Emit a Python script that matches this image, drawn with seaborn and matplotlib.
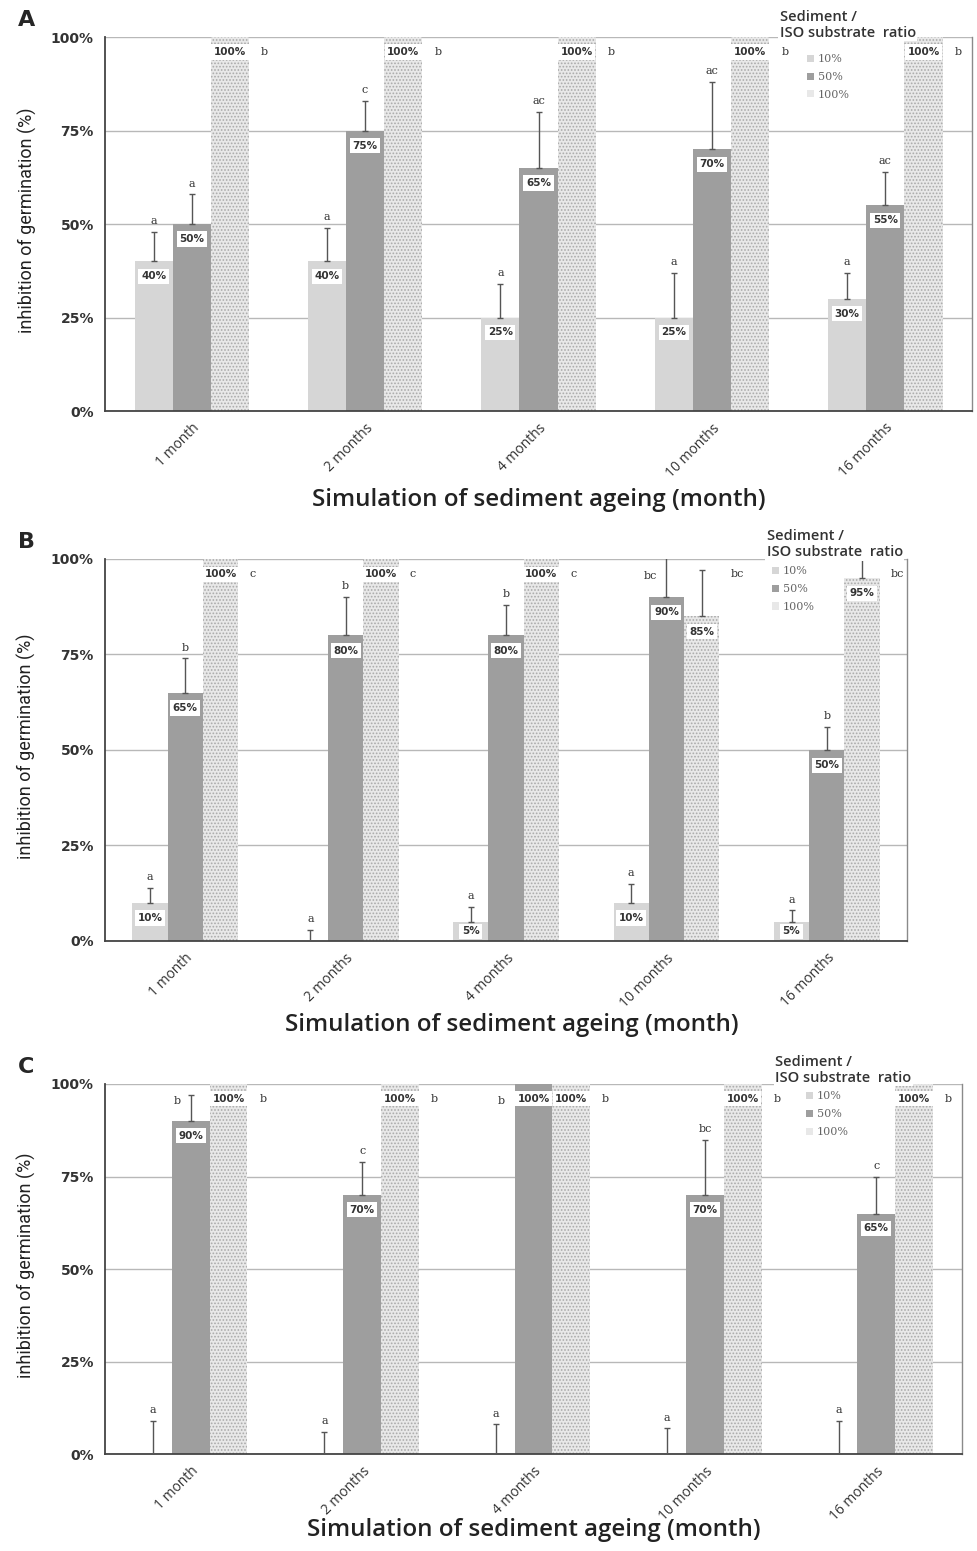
import numpy as np
import pandas as pd
import matplotlib
matplotlib.use('Agg')
import matplotlib.pyplot as plt
import matplotlib.colors as mcolors
import seaborn as sns
from matplotlib.patches import Patch

# categories
months = ['1 month', '2 months', '4 months', '10 months', '16 months']
ratios = ['10%', '50%', '100%']

# panel A
a_10 = [40, 40, 25, 25, 30]
a_10_err = [8, 9, 9, 12, 7]
a_50 = [50, 75, 65, 70, 55]
a_50_err = [8, 8, 15, 18, 9]
a_100 = [100, 100, 100, 100, 100]
a_100_err = [0, 0, 0, 0, 0]
a_let_10 = ['a', 'a', 'a', 'a', 'a']
a_let_50 = ['a', 'c', 'ac', 'ac', 'ac']
a_let_100 = ['b', 'b', 'b', 'b', 'b']

# panel B
b_10 = [10, 0, 5, 10, 5]
b_10_err = [4, 3, 4, 5, 3]
b_50 = [65, 80, 80, 90, 50]
b_50_err = [9, 10, 8, 12, 6]
b_100 = [100, 100, 100, 85, 95]
b_100_err = [0, 0, 0, 12, 8]
b_let_10 = ['a', 'a', 'a', 'a', 'a']
b_let_50 = ['b', 'b', 'b', 'bc', 'b']
b_let_100 = ['c', 'c', 'c', 'bc', 'bc']

# panel C
c_10 = [0, 0, 0, 0, 0]
c_10_err = [9, 6, 8, 7, 9]
c_50 = [90, 70, 100, 70, 65]
c_50_err = [7, 9, 0, 15, 10]
c_100 = [100, 100, 100, 100, 100]
c_100_err = [0, 0, 0, 0, 0]
c_let_10 = ['a', 'a', 'a', 'a', 'a']
c_let_50 = ['b', 'c', 'b', 'bc', 'c']
c_let_100 = ['b', 'b', 'b', 'b', 'b']

sns.set_style('white')
plt.rcParams['font.family'] = ['DejaVu Sans']
plt.rcParams['hatch.linewidth'] = 0.8

colors = ['#d6d6d6', '#9e9e9e', '#e8e8e8']
txt = '#333333'
group_w = 0.66
bw = group_w / 3

fig = plt.figure(figsize=(9.77, 15.51), dpi=100)

panels = [
    dict(name='A', rect=[0.1075, 0.7350, 0.8874, 0.2411],
         vals=[a_10, a_50, a_100], errs=[a_10_err, a_50_err, a_100_err],
         lets=[a_let_10, a_let_50, a_let_100], xl=(0.5, -0.238),
         yl=-0.09, title=(0.778, 1.073), leg=(0.801, 0.975)),
    dict(name='B', rect=[0.1075, 0.3933, 0.8209, 0.2463],
         vals=[b_10, b_50, b_100], errs=[b_10_err, b_50_err, b_100_err],
         lets=[b_let_10, b_let_50, b_let_100], xl=(0.507, -0.22),
         yl=-0.0985, title=(0.825, 1.078), leg=(0.822, 1.001)),
    dict(name='C', rect=[0.1075, 0.0625, 0.8772, 0.2386],
         vals=[c_10, c_50, c_100], errs=[c_10_err, c_50_err, c_100_err],
         lets=[c_let_10, c_let_50, c_let_100], xl=(0.5, -0.205),
         yl=-0.0916, title=(0.782, 1.079), leg=(0.809, 1.001)),
]

for p in panels:
    ax = fig.add_axes(p['rect'])
    df = pd.DataFrame({
        'month': months * 3,
        'ratio': [r for r in ratios for _ in months],
        'value': p['vals'][0] + p['vals'][1] + p['vals'][2],
    })
    sns.barplot(data=df, x='month', y='value', hue='ratio', order=months,
                hue_order=ratios, palette=colors, width=group_w, errorbar=None,
                saturation=1, legend=False, ax=ax, zorder=2)

    # no outlines; speckled look for the 100% bars
    speck = mcolors.to_rgba(colors[2])
    for b in ax.patches:
        b.set_linewidth(0)
        if np.allclose(b.get_facecolor(), speck, atol=0.01):
            b.set_hatch('.....')
            b.set_edgecolor('#aaaaaa')

    for i in range(3):
        xs = np.arange(len(months)) + (i - 1) * bw
        vals = np.array(p['vals'][i], dtype=float)
        errs = np.array(p['errs'][i], dtype=float)
        m = errs > 0
        if m.any():
            ax.errorbar(xs[m], vals[m], yerr=[np.zeros(m.sum()), errs[m]],
                        fmt='none', ecolor='#555555', elinewidth=1,
                        capsize=2.5, capthick=1, zorder=3)
        for x, v, e, l in zip(xs, vals, errs, p['lets'][i]):
            # value label
            if v > 0:
                ly = v - 4 if v >= 10 else v / 2
                ax.text(x, ly, f'{int(v)}%', ha='center', va='center',
                        fontsize=7.5, fontweight='bold', color=txt, zorder=5,
                        bbox=dict(boxstyle='square,pad=0.25', fc='white', ec='none'))
            # significance letter
            if i == 2:
                ax.text(x + bw / 2 + 0.07, 96, l, ha='left', va='center',
                        fontsize=8, family='DejaVu Serif', color=txt, zorder=5)
            elif v + e >= 95:
                dx = bw / 2 if e == 0 else 0
                ax.text(x - dx - 0.06, 95.5, l, ha='right', va='center',
                        fontsize=8, family='DejaVu Serif', color=txt, zorder=5)
            else:
                ax.text(x, v + e + 1.5, l, ha='center', va='bottom',
                        fontsize=8, family='DejaVu Serif', color=txt, zorder=5)

    ax.set_ylim(0, 100)
    ax.set_xlim(-0.5, 4.5)
    ax.set_yticks([0, 25, 50, 75, 100])
    ax.set_yticklabels(['0%', '25%', '50%', '75%', '100%'], fontsize=10,
                       fontweight='bold', color=txt)
    ax.yaxis.grid(True, color='#b8b8b8', lw=1)
    ax.set_axisbelow(True)
    ax.set_xticks(range(5))
    ax.set_xticklabels(months, rotation=45, ha='right', va='top',
                       rotation_mode='anchor', fontsize=10, family='Open Sans',
                       color=txt)
    ax.set_xticks(np.arange(-0.5, 5, 1), minor=True)
    ax.tick_params(axis='x', which='major', length=0, pad=7)
    ax.tick_params(axis='x', which='minor', length=5, width=1, color='#444444',
                   direction='out')
    ax.tick_params(axis='y', length=4, width=1, color='#444444', direction='out', pad=4)

    ax.spines['top'].set_visible(False)
    ax.spines['left'].set_color('#444444')
    ax.spines['bottom'].set_color('#444444')
    ax.spines['left'].set_linewidth(1.3)
    ax.spines['bottom'].set_linewidth(1.3)
    ax.spines['right'].set_color('#8a8a8a')
    ax.spines['right'].set_linewidth(1)

    ax.set_xlabel('Simulation of sediment ageing (month)', fontsize=17.4,
                  family='Open Sans', fontweight='semibold', color='#222222')
    ax.xaxis.set_label_coords(*p['xl'])
    ax.xaxis.label.set_va('center')
    ax.set_ylabel('inhibition of germination (%)', fontsize=13,
                  family=['Liberation Sans Narrow', 'DejaVu Sans Condensed', 'Roboto'],
                  color='#222222')
    ax.yaxis.set_label_coords(p['yl'], 0.51)
    ax.yaxis.label.set_va('center')

    # legend
    handles = [Patch(facecolor=c, edgecolor='none') for c in colors]
    tx, ty = p['title']
    ax.text(tx, ty, 'Sediment /\nISO substrate  ratio', transform=ax.transAxes,
            ha='left', va='top', fontsize=10.5, family='Open Sans',
            fontweight='semibold', color='#333333', linespacing=1.2, zorder=7,
            bbox=dict(boxstyle='square,pad=0.1', fc='white', ec='none'))
    leg = ax.legend(handles, ratios, loc='upper left',
                    bbox_to_anchor=p['leg'], frameon=True,
                    handlelength=0.6, handleheight=0.6,
                    handletextpad=0.35, labelspacing=0.7, borderpad=0.2,
                    prop=dict(family='DejaVu Serif', size=8))
    leg.get_frame().set_facecolor('white')
    leg.get_frame().set_edgecolor('none')
    leg.get_frame().set_alpha(1)
    for t in leg.get_texts():
        t.set_color('#666666')
    leg.set_zorder(6)

    fig.text(0.018, p['rect'][1] + p['rect'][3] + 0.011, p['name'],
             fontsize=16, fontweight='bold', ha='left', va='center')

fig.savefig('out.png', dpi=100)
